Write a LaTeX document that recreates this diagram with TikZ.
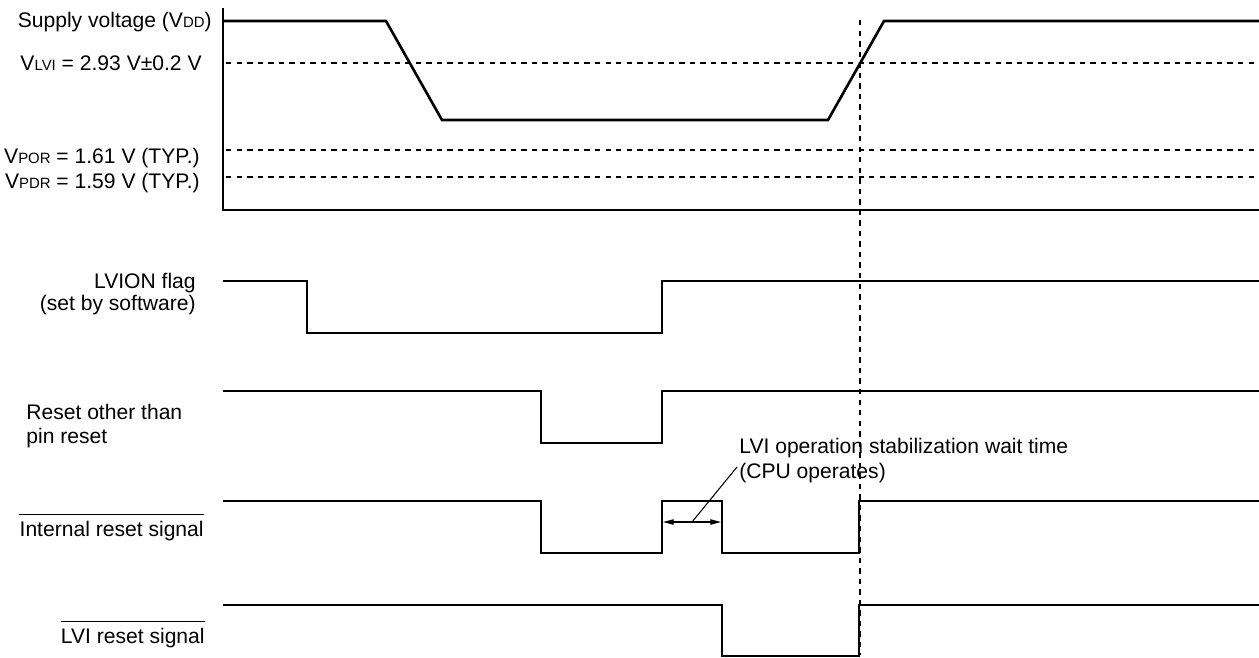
\documentclass[tikz,border=0pt]{standalone}
\usepackage{fontspec}
\setmainfont{Liberation Sans}
\usepackage{tikz}
\usetikzlibrary{arrows.meta, positioning}

\newcommand{\vidx}[1]{\raisebox{-0.4pt}{\fontsize{8.5}{10}\selectfont #1}}

\begin{document}
\begin{tikzpicture}[
    x=0.02cm, y=-0.02cm,
    wave/.style={line width=1.5pt, line join=miter},
    level/.style={line width=0.75pt, dash pattern=on 3.1pt off 2.9pt},
    barline/.style={line width=0.6pt},
    lbl/.style={inner sep=0pt, font=\fontsize{12}{14.2}\selectfont},
    dimarrow/.style={line width=0.6pt, {Triangle[length=6pt,width=3pt]}-{Triangle[length=6pt,width=3pt]}},
    leader/.style={line width=0.6pt}
]
\useasboundingbox (0,0) rectangle (1259,657);

\node[lbl, anchor=base east] (vddlbl) at (212,27) {Supply voltage (V\vidx{DD})};
\node[lbl, anchor=base east] (lvilbl) at (202,70) {V\vidx{LVI} = 2.93 V±0.2 V};
\node[lbl, anchor=base east] (porlbl) at (200,163) {V\vidx{POR} = 1.61 V (TYP.)};
\node[lbl, anchor=base east] (pdrlbl) at (200,188) {V\vidx{PDR} = 1.59 V (TYP.)};
\node[lbl, anchor=base east, align=right, font=\fontsize{12}{12}\selectfont] (flaglbl) at (196,310) {LVION flag\\(set by software)};
\node[lbl, anchor=base west, align=left, font=\fontsize{12}{13.6}\selectfont] (rstlbl) at (26,443) {Reset other than\\pin reset};
\node[lbl, anchor=base east] (intlbl) at (204,536) {Internal reset signal};
\node[lbl, anchor=base east] (lvirlbl) at (205,643) {LVI reset signal};
\node[lbl, anchor=base west, align=left] (waitlbl) at (739,478) {LVI operation stabilization wait time\\(CPU operates)};

\draw[barline] ([yshift=3.6pt]intlbl.north west) -- ([yshift=3.6pt]intlbl.north east);
\draw[barline] ([yshift=3.6pt]lvirlbl.north west) -- ([yshift=3.6pt]lvirlbl.north east);

\draw[wave] (223,8) -- (223,210) -- (1259,210);
\draw[level] (226,63) -- (1256,63);
\draw[level] (226,150) -- (1256,150);
\draw[level] (226,177) -- (1256,177);
\draw[level] (860,20) -- (860,655);

\draw[wave] (223,21) -- (386,21) -- (442,120) -- (828,120) -- (884,21) -- (1259,21);
\draw[wave] (223,281) -- (307,281) -- (307,333) -- (662,333) -- (662,281) -- (1259,281);
\draw[wave] (223,391) -- (541,391) -- (541,443) -- (662,443) -- (662,391) -- (1259,391);
\draw[wave] (223,501) -- (541,501) -- (541,553) -- (662,553) -- (662,501) -- (722,501)
    -- (722,553) -- (859,553) -- (859,501) -- (1259,501);
\draw[wave] (223,605) -- (722,605) -- (722,656) -- (859,656) -- (859,605) -- (1259,605);

\coordinate (waitbeg) at (663,522);
\coordinate (waitend) at (721,522);
\coordinate (waitmid) at (692,522);
\coordinate (waittip) at (737,467);
\draw[dimarrow] (waitbeg) -- (waitend);
\draw[leader] (waittip) -- (waitmid);
\end{tikzpicture}
\end{document}
